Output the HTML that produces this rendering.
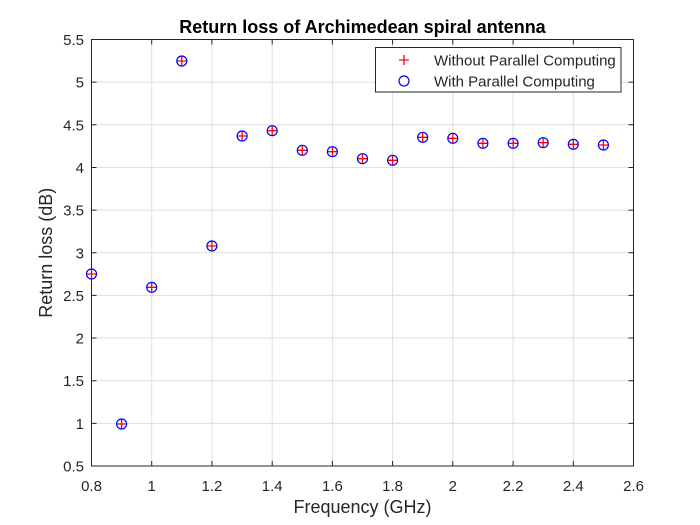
<!DOCTYPE html>
<html><head><meta charset="utf-8"><style>
html,body{margin:0;padding:0;background:#fff;}
svg{display:block;}
text{font-family:"Liberation Sans",Arial,sans-serif;fill:#262626;}
</style></head><body>
<svg width="700" height="525" viewBox="0 0 700 525" xmlns="http://www.w3.org/2000/svg">
<rect x="0" y="0" width="700" height="525" fill="#fff"/>
<rect x="91.5" y="39.5" width="542" height="426.5" fill="#fff"/>
<g stroke="#dfdfdf" stroke-width="1">
<line x1="151.7" y1="39.5" x2="151.7" y2="466"/>
<line x1="211.9" y1="39.5" x2="211.9" y2="466"/>
<line x1="272.2" y1="39.5" x2="272.2" y2="466"/>
<line x1="332.4" y1="39.5" x2="332.4" y2="466"/>
<line x1="392.6" y1="39.5" x2="392.6" y2="466"/>
<line x1="452.8" y1="39.5" x2="452.8" y2="466"/>
<line x1="513.1" y1="39.5" x2="513.1" y2="466"/>
<line x1="573.3" y1="39.5" x2="573.3" y2="466"/>
<line x1="91.5" y1="423.35" x2="633.5" y2="423.35"/>
<line x1="91.5" y1="380.7" x2="633.5" y2="380.7"/>
<line x1="91.5" y1="338.05" x2="633.5" y2="338.05"/>
<line x1="91.5" y1="295.4" x2="633.5" y2="295.4"/>
<line x1="91.5" y1="252.75" x2="633.5" y2="252.75"/>
<line x1="91.5" y1="210.1" x2="633.5" y2="210.1"/>
<line x1="91.5" y1="167.45" x2="633.5" y2="167.45"/>
<line x1="91.5" y1="124.8" x2="633.5" y2="124.8"/>
<line x1="91.5" y1="82.15" x2="633.5" y2="82.15"/>
</g>
<g stroke="#262626" stroke-width="1">
<!-- x ticks bottom and top -->
<path d="M151.7 466v-5M211.9 466v-5M272.2 466v-5M332.4 466v-5M392.6 466v-5M452.8 466v-5M513.1 466v-5M573.3 466v-5
M151.7 39.5v5M211.9 39.5v5M272.2 39.5v5M332.4 39.5v5M392.6 39.5v5M452.8 39.5v5M513.1 39.5v5M573.3 39.5v5
M91.5 423.35h5M91.5 380.7h5M91.5 338.05h5M91.5 295.4h5M91.5 252.75h5M91.5 210.1h5M91.5 167.45h5M91.5 124.8h5M91.5 82.15h5
M633.5 423.35h-5M633.5 380.7h-5M633.5 338.05h-5M633.5 295.4h-5M633.5 252.75h-5M633.5 210.1h-5M633.5 167.45h-5M633.5 124.8h-5M633.5 82.15h-5" fill="none"/>
<rect x="91.5" y="39.5" width="542" height="426.5" fill="none"/>
</g>
<!-- data: red plus -->
<g stroke="#ff0000" stroke-width="1.3" fill="none">
<path d="M86.5 274h10M91.5 269v10
M116.6 424h10M121.6 419v10
M146.7 287.3h10M151.7 282.3v10
M176.8 61h10M181.8 56v10
M206.9 246h10M211.9 241v10
M237.1 136h10M242.1 131v10
M267.2 130.7h10M272.2 125.7v10
M297.3 150.3h10M302.3 145.3v10
M327.4 151.7h10M332.4 146.7v10
M357.5 158.7h10M362.5 153.7v10
M387.6 160.3h10M392.6 155.3v10
M417.7 137.3h10M422.7 132.3v10
M447.8 138.3h10M452.8 133.3v10
M477.9 143.3h10M482.9 138.3v10
M508.1 143.3h10M513.1 138.3v10
M538.2 142.7h10M543.2 137.7v10
M568.3 144.3h10M573.3 139.3v10
M598.4 145h10M603.4 140v10"/>
</g>
<!-- data: blue circles -->
<g stroke="#0000ff" stroke-width="1.2" fill="none">
<circle cx="91.5" cy="274" r="5"/>
<circle cx="121.6" cy="424" r="5"/>
<circle cx="151.7" cy="287.3" r="5"/>
<circle cx="181.8" cy="61" r="5"/>
<circle cx="211.9" cy="246" r="5"/>
<circle cx="242.1" cy="136" r="5"/>
<circle cx="272.2" cy="130.7" r="5"/>
<circle cx="302.3" cy="150.3" r="5"/>
<circle cx="332.4" cy="151.7" r="5"/>
<circle cx="362.5" cy="158.7" r="5"/>
<circle cx="392.6" cy="160.3" r="5"/>
<circle cx="422.7" cy="137.3" r="5"/>
<circle cx="452.8" cy="138.3" r="5"/>
<circle cx="482.9" cy="143.3" r="5"/>
<circle cx="513.1" cy="143.3" r="5"/>
<circle cx="543.2" cy="142.7" r="5"/>
<circle cx="573.3" cy="144.3" r="5"/>
<circle cx="603.4" cy="145" r="5"/>
</g>
<!-- tick labels -->
<g font-size="15" text-anchor="middle">
<text x="91.5" y="491">0.8</text>
<text x="151.7" y="491">1</text>
<text x="211.9" y="491">1.2</text>
<text x="272.2" y="491">1.4</text>
<text x="332.4" y="491">1.6</text>
<text x="392.6" y="491">1.8</text>
<text x="452.8" y="491">2</text>
<text x="513.1" y="491">2.2</text>
<text x="573.3" y="491">2.4</text>
<text x="633.5" y="491">2.6</text>
</g>
<g font-size="15" text-anchor="end">
<text x="84" y="471.5">0.5</text>
<text x="84" y="428.85">1</text>
<text x="84" y="386.2">1.5</text>
<text x="84" y="343.55">2</text>
<text x="84" y="300.9">2.5</text>
<text x="84" y="258.25">3</text>
<text x="84" y="215.6">3.5</text>
<text x="84" y="172.95">4</text>
<text x="84" y="130.3">4.5</text>
<text x="84" y="87.65">5</text>
<text x="84" y="45">5.5</text>
</g>
<text x="362.5" y="513" font-size="18" text-anchor="middle">Frequency (GHz)</text>
<text transform="translate(52,252.75) rotate(-90)" font-size="18" text-anchor="middle">Return loss (dB)</text>
<text x="362.5" y="33" font-size="18" font-weight="bold" text-anchor="middle" fill="#000" style="fill:#000">Return loss of Archimedean spiral antenna</text>
<!-- legend -->
<rect x="375.5" y="47.5" width="245.5" height="44.5" fill="#fff" stroke="#262626" stroke-width="1"/>
<path d="M399 60h10M404 55v10" stroke="#ff0000" stroke-width="1.3"/>
<circle cx="404" cy="81" r="5" stroke="#0000ff" stroke-width="1.2" fill="none"/>
<g font-size="15">
<text x="434" y="65.5">Without Parallel Computing</text>
<text x="434" y="86.5">With Parallel Computing</text>
</g>
</svg>
</body></html>
